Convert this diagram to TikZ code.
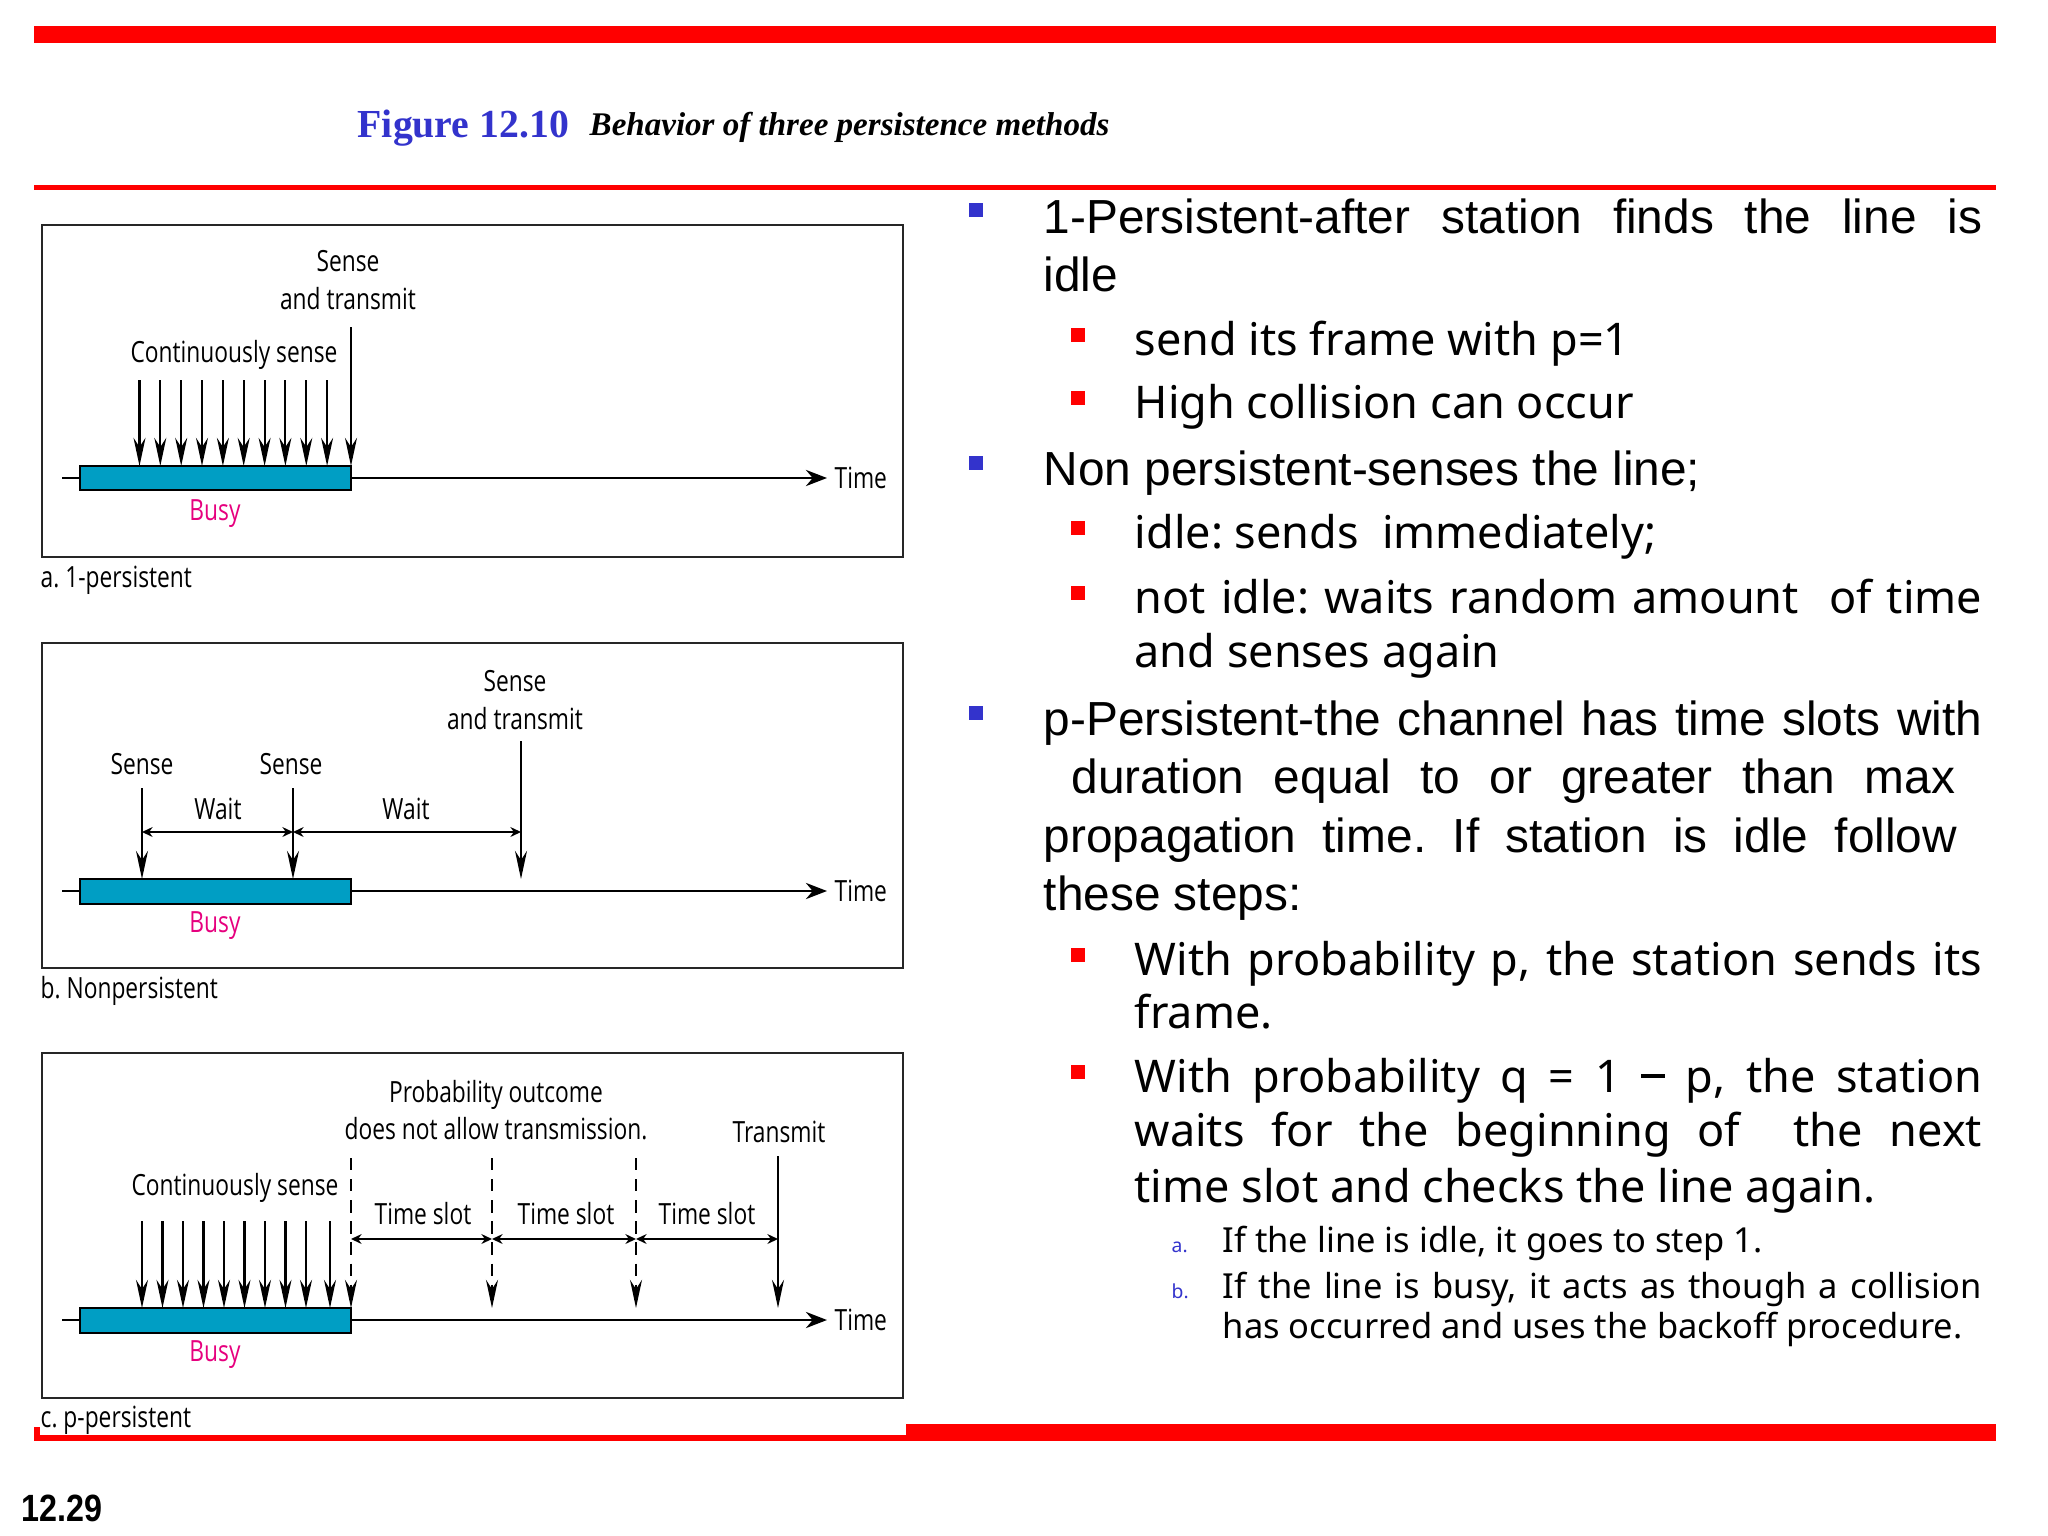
\documentclass[tikz,border=0pt]{standalone}
\usepackage{fontspec}
\setmainfont{Liberation Sans}
\newfontfamily\dfont[FakeStretch=0.78]{Open Sans}
\newfontfamily\nfont{Noto Sans}
\newfontfamily\tfont{Liberation Serif}
\newfontfamily\pgfont[FakeStretch=0.85]{Liberation Sans}
\usetikzlibrary{arrows.meta}
\definecolor{busyfill}{RGB}{0,158,196}
\definecolor{busytxt}{RGB}{230,0,126}
\definecolor{titleblue}{RGB}{51,51,204}
\definecolor{barred}{RGB}{255,0,0}
\frenchspacing
\tikzset{
  lbl/.style={font=\dfont\fontsize{8.3pt}{10.6pt}\selectfont, inner sep=0pt, align=center},
  busylbl/.style={lbl, text=busytxt},
  sensearr/.style={line width=0.6pt, -{Stealth[length=8pt,width=3.4pt]}},
  dasharr/.style={sensearr, dash pattern=on 3.5pt off 2.5pt},
  timearr/.style={line width=0.7pt, -{Stealth[length=6pt,width=4.6pt]}},
  spanarr/.style={line width=0.5pt, {Stealth[length=3pt,width=2.8pt]}-{Stealth[length=3pt,width=2.8pt]}},
  panel/.style={draw=black!85, line width=0.6pt},
  busybox/.style={draw=black, line width=0.6pt, fill=busyfill},
  tone/.style={font=\fontsize{13.6pt}{16pt}\selectfont, inner sep=0pt, anchor=base west},
  ttwo/.style={font=\nfont\fontsize{12.8pt}{15pt}\selectfont, inner sep=0pt, anchor=base west},
  tthree/.style={font=\nfont\fontsize{9.8pt}{12pt}\selectfont, inner sep=0pt, anchor=base west},
  bblue/.style={fill=titleblue, minimum size=0.14cm, inner sep=0pt},
  bred/.style={fill=barred, minimum size=0.14cm, inner sep=0pt},
}
\begin{document}
\begin{tikzpicture}[x=0.01cm,y=-0.01cm]
\useasboundingbox (0,0) rectangle (2048,1536);
% red bars
\fill[barred] (34,26) rectangle (1996,43);
\fill[barred] (34,185) rectangle (1996,190);
\fill[barred] (34,1435) rectangle (906,1441);
\fill[barred] (906,1424) rectangle (1996,1441);
\fill[barred] (34,1427) rectangle (40,1441);
% title
\node[inner sep=0pt, anchor=base west, text=titleblue, font=\tfont\bfseries\fontsize{11.3pt}{13pt}\selectfont] (fig) at (357,137) {Figure 12.10};
\node[inner sep=0pt, anchor=base west, font=\tfont\bfseries\itshape\fontsize{9.4pt}{11pt}\selectfont] (figt) at (589,135) {Behavior of three persistence methods};
\node[inner sep=0pt, anchor=base west, font=\pgfont\bfseries\fontsize{10.8pt}{12pt}\selectfont] (pg) at (21,1521) {12.29};

% ---------- panel a
\draw[panel] (42,225) rectangle (903,557);
\coordinate (aA0) at (62,478); \coordinate (aA1) at (827,478);
\draw[timearr] (aA0) -- (aA1);
\draw[busybox] (80,466) rectangle (351,490);
\node[lbl, anchor=west] (aTime) at (834,478) {Time};
\node[busylbl] (aBusy) at (215,514) {Busy};
\foreach \x [count=\i] in {139.5,160.3,181.2,202,222.9,243.7,264.6,285.4,306.3,327.1} {
  \coordinate (as\i t) at (\x,380); \coordinate (as\i b) at (\x,466);
  \draw[sensearr] (as\i t) -- (as\i b);
}
\coordinate (atrT) at (351,327); \coordinate (atrB) at (351,466);
\draw[sensearr] (atrT) -- (atrB);
\node[lbl] (aCont) at (234,355) {Continuously sense};
\node[lbl] (aSense) at (348,280) {Sense\\and transmit};
\node[lbl, anchor=west] (aCap) at (40,580) {a. 1-persistent};

% ---------- panel b
\draw[panel] (42,643) rectangle (903,968);
\coordinate (bA0) at (62,891); \coordinate (bA1) at (827,891);
\draw[timearr] (bA0) -- (bA1);
\draw[busybox] (80,879) rectangle (351,904);
\node[lbl, anchor=west] (bTime) at (834,891) {Time};
\node[busylbl] (bBusy) at (215,926) {Busy};
\coordinate (bs1t) at (142,788); \coordinate (bs1b) at (142,879);
\coordinate (bs2t) at (293,788); \coordinate (bs2b) at (293,879);
\coordinate (bs3t) at (521,741); \coordinate (bs3b) at (521,879);
\draw[sensearr] (bs1t) -- (bs1b);
\draw[sensearr] (bs2t) -- (bs2b);
\draw[sensearr] (bs3t) -- (bs3b);
\coordinate (bw1) at (142,832); \coordinate (bw2) at (293,832); \coordinate (bw3) at (521,832);
\draw[spanarr] (bw1) -- (bw2);
\draw[spanarr] (bw2) -- (bw3);
\node[lbl] (bWait1) at (218,809) {Wait};
\node[lbl] (bWait2) at (406,809) {Wait};
\node[lbl] (bSense1) at (142,764) {Sense};
\node[lbl] (bSense2) at (291,764) {Sense};
\node[lbl] (bSense3) at (515,700) {Sense\\and transmit};
\node[lbl, anchor=west] (bCap) at (40,991) {b. Nonpersistent};

% ---------- panel c
\draw[panel] (42,1053) rectangle (903,1398);
\coordinate (cA0) at (62,1320); \coordinate (cA1) at (827,1320);
\draw[timearr] (cA0) -- (cA1);
\draw[busybox] (80,1308) rectangle (351,1333);
\node[lbl, anchor=west] (cTime) at (834,1320) {Time};
\node[busylbl] (cBusy) at (215,1355) {Busy};
\foreach \x [count=\i] in {142,162.5,183,203.5,224,244.5,265,285.5,306,330} {
  \coordinate (cs\i t) at (\x,1221); \coordinate (cs\i b) at (\x,1308);
  \draw[sensearr] (cs\i t) -- (cs\i b);
}
\foreach \x [count=\i] in {351,492,636} {
  \coordinate (cd\i t) at (\x,1158); \coordinate (cd\i b) at (\x,1308);
  \draw[dasharr] (cd\i t) -- (cd\i b);
}
\coordinate (ctrT) at (778,1156); \coordinate (ctrB) at (778,1308);
\draw[sensearr] (ctrT) -- (ctrB);
\coordinate (cw1) at (351,1239); \coordinate (cw2) at (492,1239);
\coordinate (cw3) at (636,1239); \coordinate (cw4) at (778,1239);
\draw[spanarr] (cw1) -- (cw2);
\draw[spanarr] (cw2) -- (cw3);
\draw[spanarr] (cw3) -- (cw4);
\node[lbl] (cSlot1) at (423,1214) {Time slot};
\node[lbl] (cSlot2) at (566,1214) {Time slot};
\node[lbl] (cSlot3) at (707,1214) {Time slot};
\node[lbl] (cCont) at (235,1188) {Continuously sense};
\node[lbl] (cProb) at (496,1110) {Probability outcome\\does not allow transmission.};
\node[lbl] (cTrans) at (779,1132) {Transmit};
\node[lbl, anchor=west] (cCap) at (40,1420) {c. p-persistent};

% ---------- right column
\node[bblue] (u1) at (976,210) {};
\node[tone] (l1) at (1043,233) {\makebox[9.38cm][s]{1-Persistent-after station finds the line is}};
\node[tone] (l2) at (1043,291) {idle};
\node[bred] (u2) at (1078,335) {};
\node[ttwo] (l3) at (1134,355) {send its frame with p=1};
\node[bred] (u3) at (1078,398) {};
\node[ttwo] (l4) at (1134,418) {High collision can occur};
\node[bblue] (u4) at (976,463) {};
\node[tone] (l5) at (1043,485) {Non persistent-senses the line;};
\node[bred] (u5) at (1078,528) {};
\node[ttwo] (l6) at (1134,548) {idle: sends\ \ immediately;};
\node[bred] (u6) at (1078,593) {};
\node[ttwo] (l7) at (1134,613) {\makebox[8.47cm][s]{not idle: waits random amount\ \ of time}};
\node[ttwo] (l8) at (1134,667) {and senses again};
\node[bblue] (u7) at (976,713) {};
\node[tone] (l9) at (1043,735) {\makebox[9.38cm][s]{p-Persistent-the channel has time slots with}};
\node[tone] (l10) at (1071,793) {\makebox[8.83cm][s]{duration equal to or greater than max}};
\node[tone] (l11) at (1043,852) {\makebox[9.13cm][s]{propagation time. If station is idle follow}};
\node[tone] (l12) at (1043,910) {these steps:};
\node[bred] (u8) at (1078,955) {};
\node[ttwo] (l13) at (1134,975) {\makebox[8.47cm][s]{With probability p, the station sends its}};
\node[ttwo] (l14) at (1134,1028) {frame.};
\node[bred] (u9) at (1078,1072) {};
\node[ttwo] (l15) at (1134,1092) {\makebox[8.47cm][s]{With probability q = 1 \raisebox{0.14cm}{\rule{0.24cm}{0.045cm}} p, the station}};
\node[ttwo] (l16) at (1134,1146) {\makebox[8.47cm][s]{waits for the beginning of\ \ the next}};
\node[ttwo] (l17) at (1134,1202) {time slot and checks the line again.};
\node[inner sep=0pt, anchor=base west, text=titleblue, font=\nfont\fontsize{5.5pt}{7pt}\selectfont] (ea) at (1171,1252) {a.};
\node[tthree] (l18) at (1222,1252) {If the line is idle, it goes to step 1.};
\node[inner sep=0pt, anchor=base west, text=titleblue, font=\nfont\fontsize{5.5pt}{7pt}\selectfont] (eb) at (1171,1298) {b.};
\node[tthree] (l19) at (1222,1298) {\makebox[7.59cm][s]{If the line is busy, it acts as though a collision}};
\node[tthree] (l20) at (1222,1338) {has occurred and uses the backoff procedure.};
\end{tikzpicture}
\end{document}
